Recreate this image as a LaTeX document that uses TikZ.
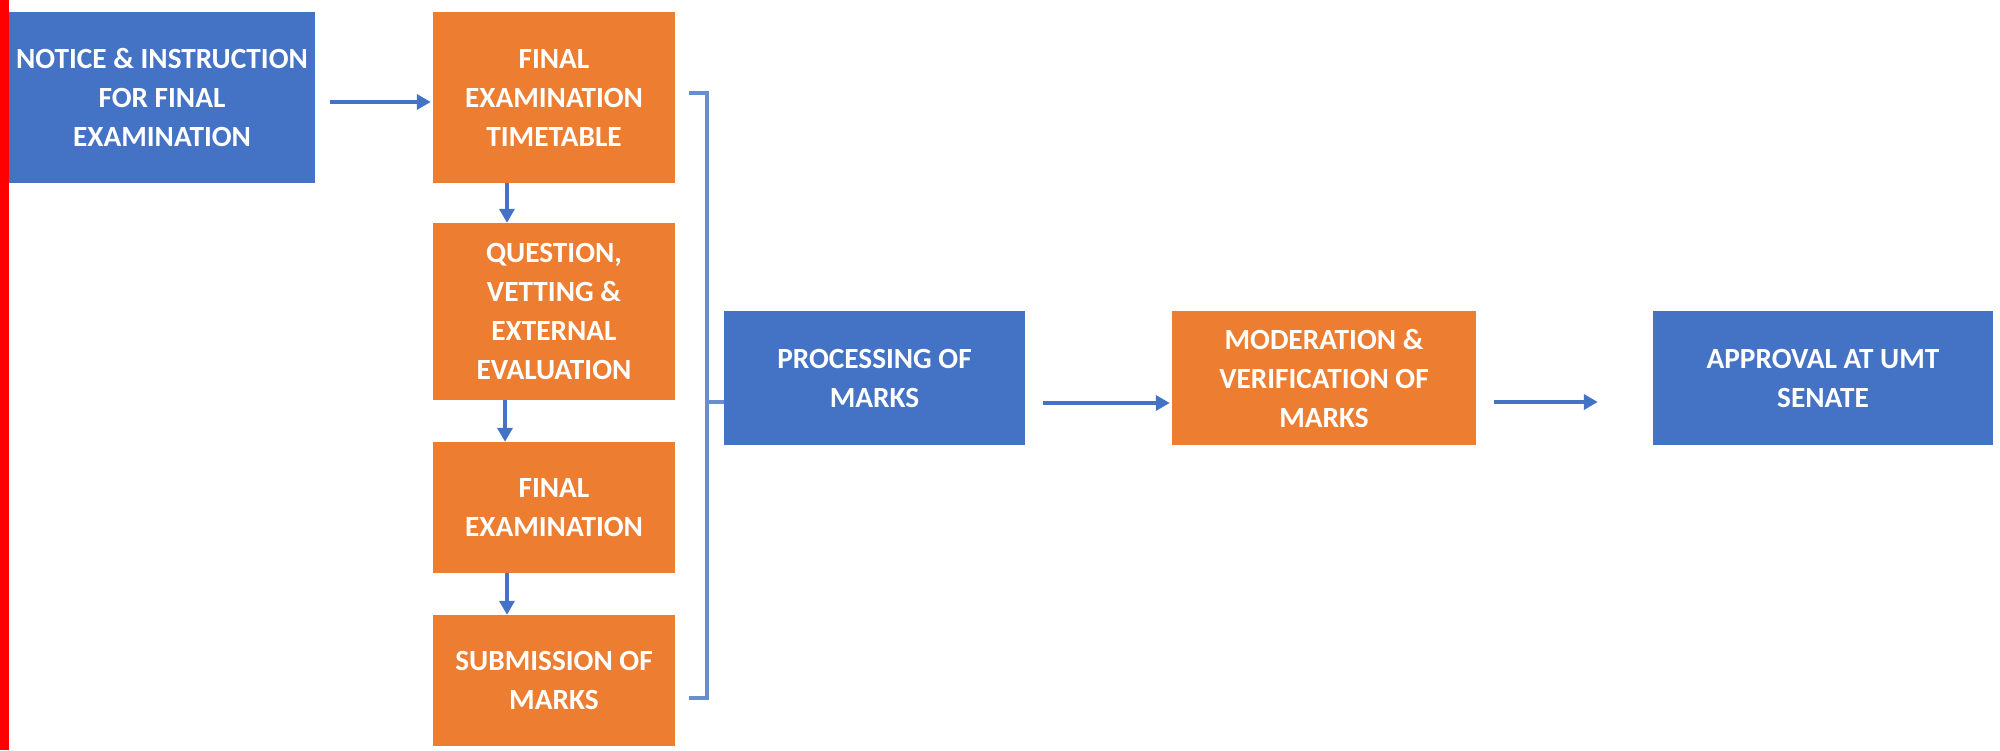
\documentclass[tikz,border=0pt]{standalone}
\usepackage{fontspec}
\setmainfont{Carlito}
\usetikzlibrary{arrows.meta}
\definecolor{mblue}{HTML}{4472C4}
\definecolor{morange}{HTML}{ED7D31}
\definecolor{mred}{HTML}{FF0000}
\tikzset{
  box/.style={draw=none, inner sep=0pt, align=center, text=white,
    font=\fontsize{29.3}{39}\selectfont\bfseries},
  bluebox/.style={box, fill=mblue},
  orangebox/.style={box, fill=morange},
  arr/.style={draw=mblue, line width=3.5pt, -{Triangle[length=14pt,width=15pt]}},
  brk/.style={draw=mblue!80, line width=3.5pt},
}
\begin{document}
\begin{tikzpicture}[x=1pt,y=-1pt]
\useasboundingbox (0,0) rectangle (2000,750);
\fill[white] (0,0) rectangle (2000,750);
\fill[mred] (0,0) rectangle (9,750);

\node[bluebox, minimum width=306pt, minimum height=171pt] (B1) at (162,97.5) {NOTICE \& INSTRUCTION\\FOR FINAL\\EXAMINATION};
\node[orangebox, minimum width=242pt, minimum height=171pt] (O1) at (554,97.5) {FINAL\\EXAMINATION\\TIMETABLE};
\node[orangebox, minimum width=242pt, minimum height=177pt] (O2) at (554,311.5) {QUESTION,\\VETTING \&\\EXTERNAL\\EVALUATION};
\node[orangebox, minimum width=242pt, minimum height=131pt] (O3) at (554,507.5) {FINAL\\EXAMINATION};
\node[orangebox, minimum width=242pt, minimum height=131pt] (O4) at (554,680.5) {SUBMISSION OF\\MARKS};
\node[bluebox, minimum width=301pt, minimum height=134pt] (B2) at (874.5,378) {PROCESSING OF\\MARKS};
\node[orangebox, minimum width=304pt, minimum height=134pt] (O5) at (1324,378) {MODERATION \&\\VERIFICATION OF\\MARKS};
\node[bluebox, minimum width=340pt, minimum height=134pt] (B3) at (1823,378) {APPROVAL AT UMT\\SENATE};

\draw[arr, shorten <=15pt, shorten >=2pt] ([yshift=-4.5pt]B1.east) -- ([yshift=-4.5pt]O1.west);
\draw[arr] ([xshift=-47pt]O1.south) -- ([xshift=-47pt]O2.north);
\draw[arr] ([xshift=-49pt]O2.south) -- ([xshift=-49pt]O3.north);
\draw[arr] ([xshift=-47pt]O3.south) -- ([xshift=-47pt]O4.north);

\coordinate (bt) at (689,93);
\coordinate (btr) at (707,93);
\coordinate (bbr) at (707,698);
\coordinate (bb) at (689,698);
\draw[brk] (bt) -- (btr) -- (bbr) -- (bb);
\draw[brk] (707,402) -- (B2.west |- 0,402);

\draw[arr, shorten <=18pt, shorten >=2pt] ([yshift=-25pt]B2.east) -- ([yshift=-25pt]O5.west);
\draw[arr, shorten <=18pt, shorten >=55pt] ([yshift=-24pt]O5.east) -- ([yshift=-24pt]B3.west);
\end{tikzpicture}
\end{document}
